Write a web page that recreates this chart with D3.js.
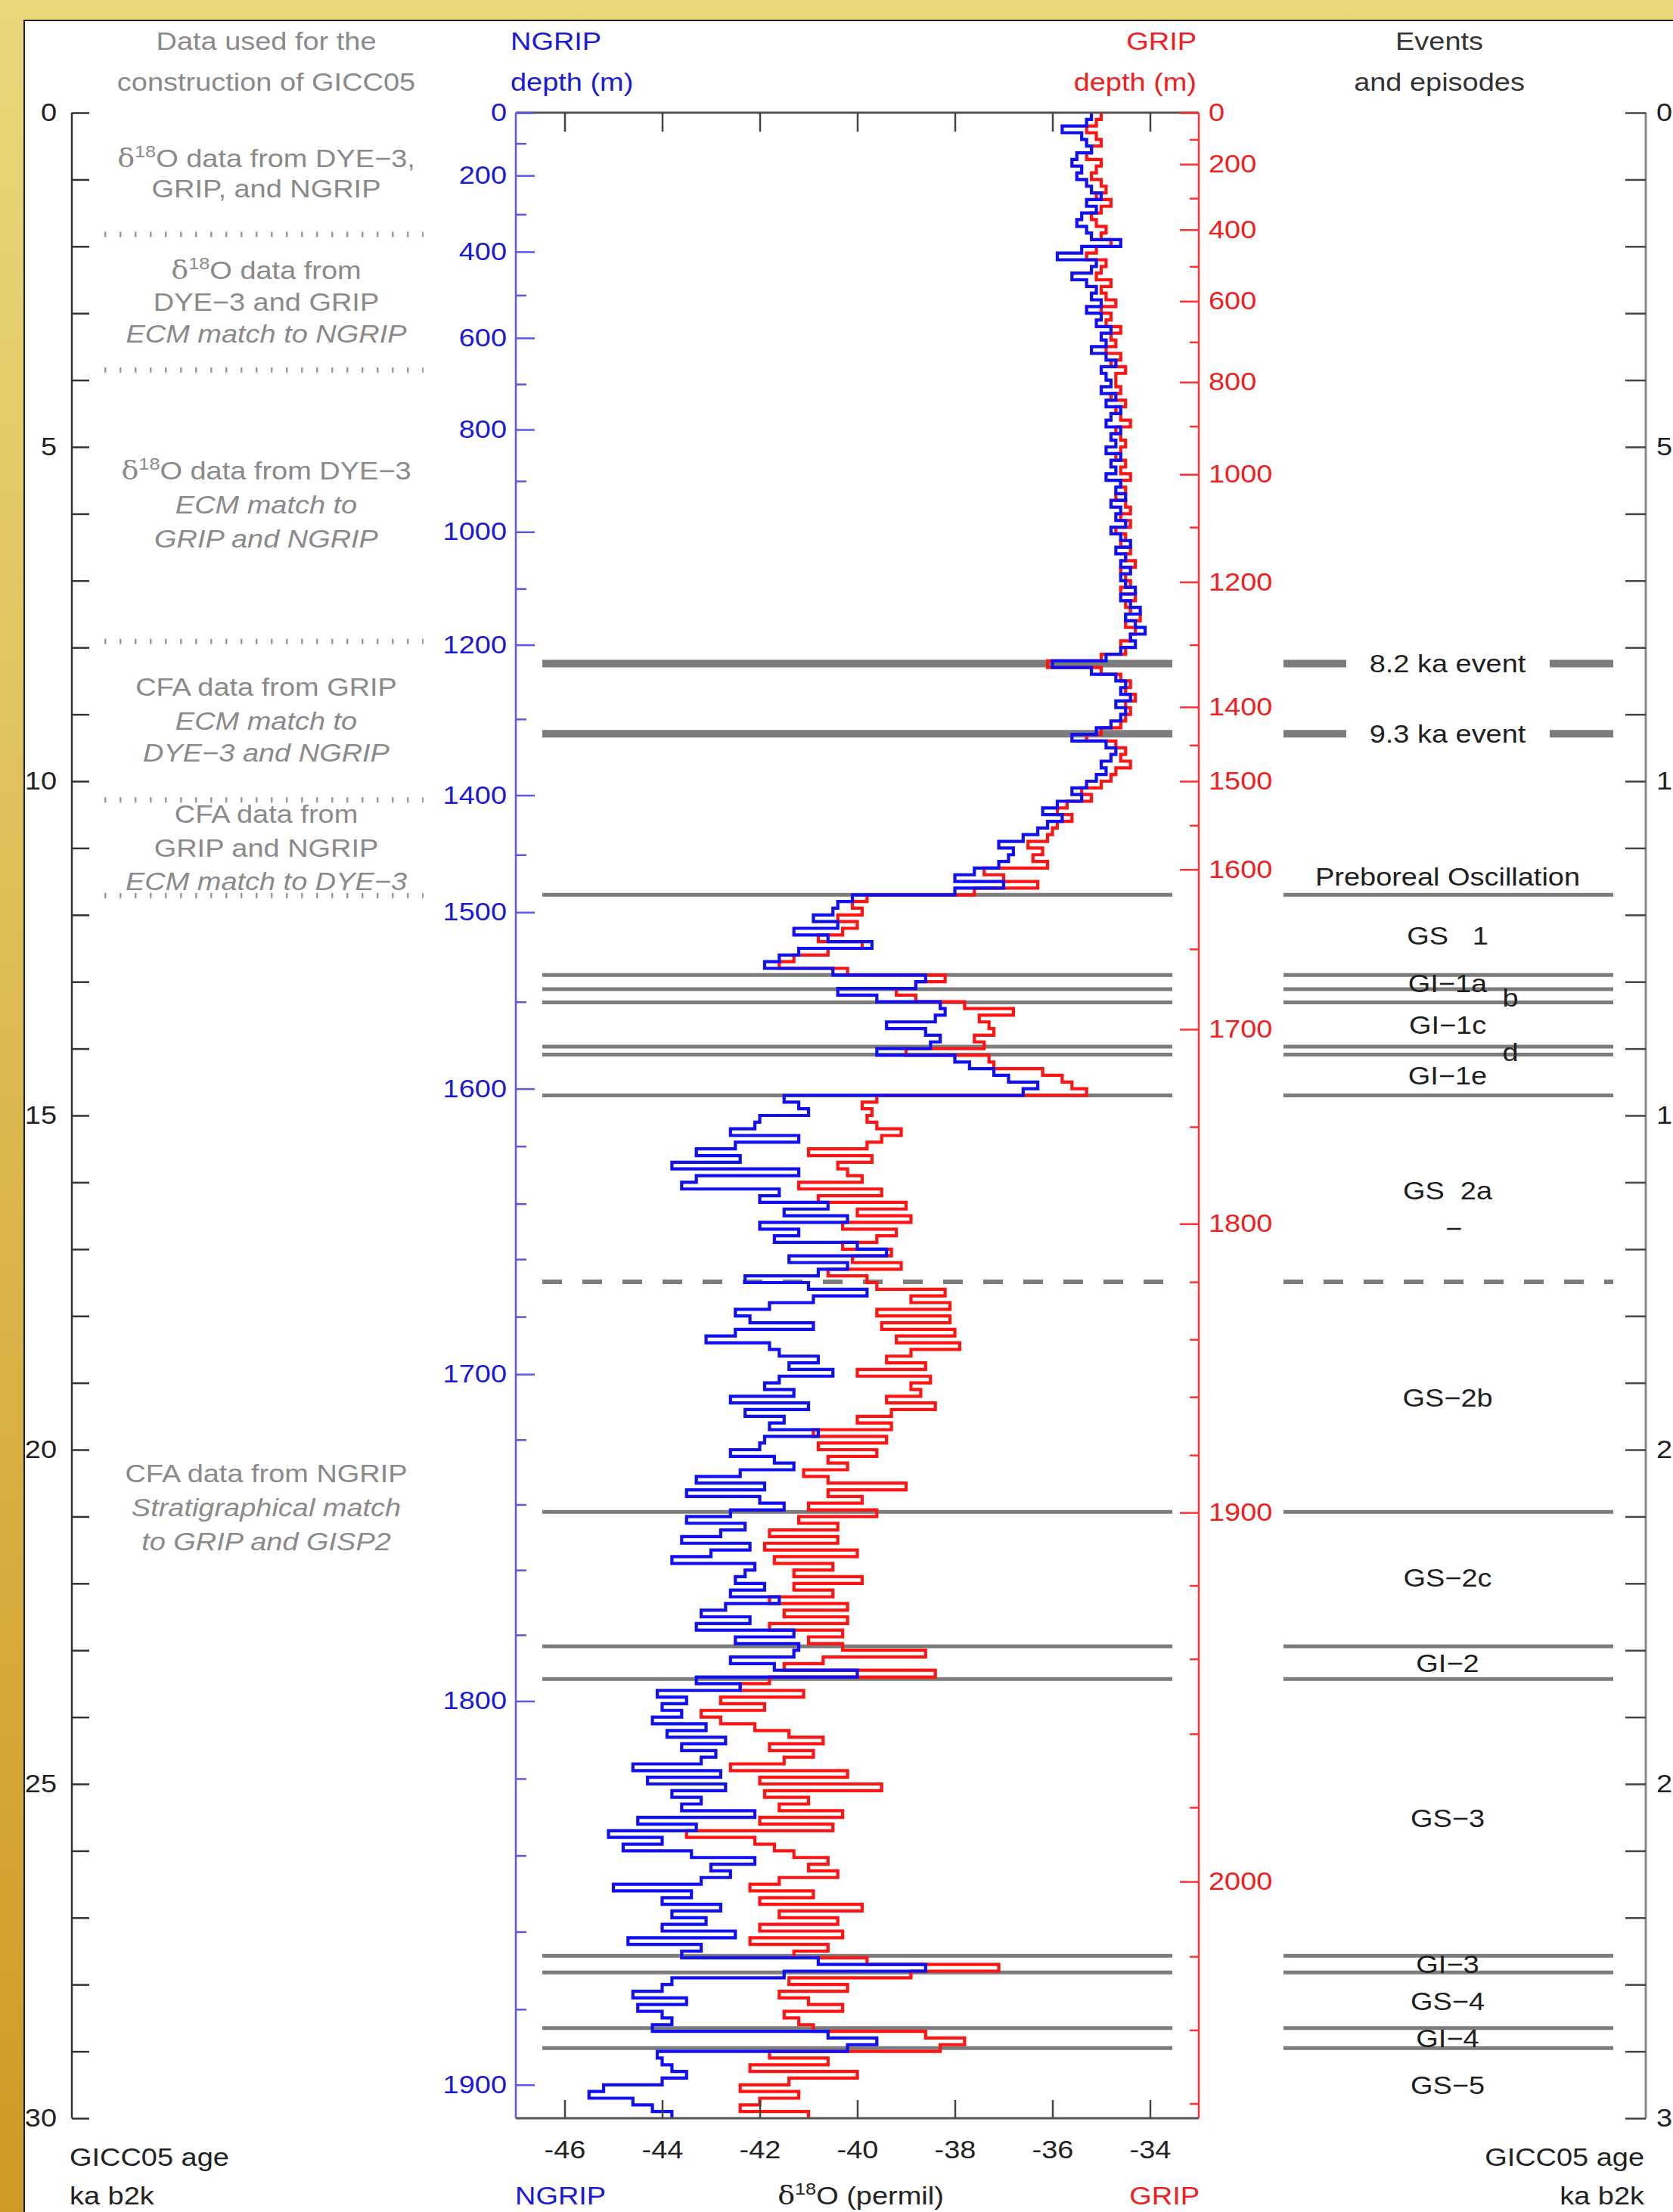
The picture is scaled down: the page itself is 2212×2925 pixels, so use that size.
<!DOCTYPE html>
<html>
<head>
<meta charset="utf-8">
<script src="https://cdn.jsdelivr.net/npm/d3@7"></script>
<style>
  body { margin: 0; background: #e8d87a; }
  svg { display: block; }
  text { font-family: 'Liberation Sans', Arial, sans-serif; }
</style>
</head>
<body>
<script>
// Canvas size of the figure
var width = 2212;
var height = 2925;

// d18O values (permil), one per 0.1 ka step from 0 ka, one row per ka
var ageStep = 0.1;
var ngripD18O = [
  -35.2,-35.3,-35.8,-35.4,-35.3,-35.2,-35.5,-35.6,-35.4,-35.5,
  -35.3,-35.2,-35.0,-35.3,-35.1,-35.4,-35.5,-35.3,-35.2,-34.6,
  -35.4,-35.9,-35.1,-35.2,-35.6,-35.3,-35.1,-35.2,-35.0,-35.3,
  -35.0,-35.1,-34.8,-35.0,-34.9,-35.2,-34.9,-34.7,-35.0,-34.9,
  -34.8,-35.0,-34.7,-34.9,-34.6,-34.8,-34.9,-34.6,-34.8,-34.7,
  -34.9,-34.6,-34.8,-34.7,-34.9,-34.6,-34.7,-34.5,-34.8,-34.6,
  -34.7,-34.5,-34.8,-34.6,-34.4,-34.7,-34.5,-34.6,-34.4,-34.6,
  -34.5,-34.3,-34.6,-34.4,-34.2,-34.5,-34.3,-34.1,-34.4,-34.3,
  -34.6,-34.9,-36.0,-35.2,-34.7,-34.5,-34.6,-34.4,-34.7,-34.5,
  -34.6,-34.8,-35.1,-35.6,-34.9,-34.7,-34.8,-35.0,-34.9,-35.1,
  -35.3,-35.6,-35.4,-35.9,-36.2,-35.8,-36.1,-36.3,-36.6,-37.1,
  -36.8,-36.9,-37.1,-37.6,-38.0,-37.0,-38.0,-40.1,-40.4,-40.5,
  -40.9,-40.4,-41.3,-40.6,-39.7,-41.2,-41.6,-41.9,-40.5,-38.6,
  -38.8,-40.4,-39.6,-38.3,-38.2,-38.4,-39.4,-38.6,-38.3,-38.5,
  -39.6,-38.0,-37.7,-37.2,-36.9,-36.3,-36.6,-41.5,-41.2,-41.0,
  -42.0,-42.1,-42.6,-41.2,-42.5,-43.3,-42.4,-43.8,-41.2,-43.3,
  -43.6,-41.6,-42.0,-40.6,-41.5,-40.2,-42.0,-41.2,-41.7,-40.0,
  -39.4,-41.4,-40.2,-40.8,-42.3,-41.0,-39.8,-40.9,-41.8,-42.5,
  -42.2,-40.9,-42.5,-43.1,-41.8,-41.6,-40.8,-41.4,-40.5,-41.6,
  -41.9,-41.3,-42.6,-41.0,-42.3,-41.5,-41.8,-40.8,-41.9,-42.0,
  -42.6,-41.7,-41.3,-42.4,-43.3,-41.9,-43.5,-42.0,-41.5,-42.6,
  -43.5,-42.3,-42.8,-43.6,-42.2,-43.0,-43.8,-42.1,-42.3,-42.5,
  -41.9,-42.6,-41.6,-42.7,-43.2,-42.2,-43.3,-41.3,-42.5,-41.2,
  -41.3,-42.6,-41.7,-40.0,-43.3,-42.4,-44.1,-43.5,-44.0,-43.6,
  -44.2,-43.1,-43.9,-42.7,-43.6,-42.9,-43.2,-44.6,-42.8,-44.3,
  -42.7,-43.8,-43.2,-43.6,-42.1,-44.5,-43.3,-45.1,-44.0,-44.8,
  -43.4,-42.1,-43.0,-42.6,-43.2,-45.0,-43.4,-44.0,-42.8,-43.8,
  -43.1,-44.0,-42.5,-44.7,-43.2,-43.6,-40.8,-38.6,-41.5,-43.8,
  -44.0,-44.6,-43.5,-44.5,-44.0,-43.8,-44.2,-40.6,-39.6,-40.2,
  -44.1,-44.0,-43.8,-43.5,-44.0,-45.2,-45.5,-44.6,-44.2,-43.8
];
var gripD18O = [
  -35.0,-35.1,-35.3,-35.1,-35.0,-35.2,-35.3,-35.0,-35.1,-35.2,
  -35.0,-34.9,-35.1,-34.8,-35.0,-35.2,-35.1,-34.9,-35.0,-34.8,
  -35.1,-35.3,-34.9,-35.0,-35.1,-34.8,-35.0,-34.9,-34.7,-35.0,
  -34.8,-34.9,-34.6,-34.8,-34.7,-34.9,-34.6,-34.8,-34.5,-34.7,
  -34.7,-34.6,-34.8,-34.5,-34.7,-34.6,-34.4,-34.7,-34.6,-34.5,
  -34.6,-34.7,-34.5,-34.6,-34.4,-34.6,-34.5,-34.7,-34.5,-34.4,
  -34.6,-34.4,-34.7,-34.5,-34.6,-34.4,-34.5,-34.3,-34.6,-34.5,
  -34.4,-34.6,-34.3,-34.5,-34.4,-34.2,-34.5,-34.3,-34.4,-34.6,
  -34.5,-35.0,-36.1,-35.0,-34.6,-34.4,-34.5,-34.3,-34.5,-34.4,
  -34.5,-34.6,-35.0,-35.3,-34.7,-34.5,-34.6,-34.4,-34.7,-34.8,
  -35.0,-35.4,-35.2,-35.7,-35.9,-35.6,-35.9,-36.0,-36.1,-36.5,
  -36.2,-36.4,-36.1,-37.4,-37.0,-36.3,-37.6,-39.8,-40.1,-39.9,
  -40.4,-40.0,-40.3,-40.8,-39.9,-40.6,-41.3,-41.6,-40.2,-38.2,
  -38.8,-39.2,-38.8,-37.8,-36.8,-37.5,-37.3,-37.2,-37.6,-37.4,
  -39.0,-37.3,-37.2,-36.2,-35.8,-35.6,-35.3,-39.6,-39.9,-39.7,
  -39.8,-39.6,-39.1,-39.5,-39.8,-41.0,-39.7,-40.4,-40.2,-39.9,
  -41.2,-39.5,-40.8,-39.0,-40.0,-38.9,-40.3,-39.2,-39.6,-40.3,
  -39.3,-40.1,-39.1,-40.6,-39.8,-39.6,-38.2,-38.9,-38.1,-39.6,
  -38.1,-39.5,-38.0,-39.2,-37.9,-38.9,-39.4,-38.6,-40.0,-38.5,
  -38.9,-38.7,-39.4,-38.4,-39.3,-40.0,-39.3,-40.9,-39.4,-40.8,
  -39.6,-40.6,-40.2,-41.1,-40.6,-39.0,-40.6,-39.9,-41.0,-39.6,
  -41.2,-40.4,-41.8,-40.4,-41.9,-40.0,-41.7,-40.5,-41.3,-39.9,
  -41.3,-40.5,-41.8,-40.2,-41.5,-40.2,-41.8,-40.3,-41.0,-40.3,
  -38.6,-40.7,-41.5,-38.4,-41.8,-42.4,-41.1,-42.8,-41.9,-43.2,
  -42.8,-42.1,-41.4,-40.7,-41.8,-40.9,-41.5,-42.6,-40.2,-42.0,
  -39.5,-41.9,-41.0,-41.6,-40.3,-42.0,-40.5,-43.5,-42.1,-41.7,
  -41.3,-40.6,-41.0,-40.4,-41.6,-42.2,-40.9,-42.0,-39.9,-41.6,
  -40.4,-42.0,-40.3,-42.2,-40.6,-41.3,-39.8,-37.1,-38.9,-41.4,
  -40.2,-41.6,-41.0,-40.3,-41.5,-41.2,-40.9,-38.6,-37.8,-38.3,
  -41.8,-40.6,-42.2,-40.0,-41.4,-42.4,-41.2,-42.0,-42.4,-41.0
];

// Depth ticks of both cores and the GICC05 age (ka b2k) where they sit
var ngripTickDepths = [0,100,200,300,400,500,600,700,800,900,1000,1100,1200,1300,1400,1450,1500,1550,1600,
  1620,1640,1660,1680,1700,1720,1740,1760,1780,1800,1820,1840,1860,1880,1900];
var ngripTickAges = [0,0.46,0.94,1.52,2.08,2.73,3.37,4.06,4.74,5.51,6.27,7.12,7.96,9.07,10.21,11.10,11.96,13.30,14.60,
  15.46,16.32,17.15,18.01,18.87,19.85,20.82,21.80,22.77,23.76,24.92,26.07,27.21,28.37,29.50];
var ngripLabelDepths = [0,200,400,600,800,1000,1200,1400,1500,1600,1700,1800,1900];

var gripTickDepths = [0,100,200,300,400,500,600,700,800,900,1000,1100,1200,1300,1400,1450,1500,1550,1600,1650,1700,1750,
  1800,1820,1840,1860,1880,1900,1920,1940,1960,1980,2000,2020,2040,2060];
var gripTickAges = [0,0.40,0.77,1.28,1.75,2.30,2.82,3.43,4.03,4.69,5.41,6.20,7.02,7.96,8.89,9.46,10.00,10.66,11.32,12.51,13.71,15.17,
  16.62,17.49,18.35,19.21,20.08,20.94,22.03,23.13,24.25,25.35,26.46,27.58,28.68,29.78];
var gripLabelDepths = [0,200,400,600,800,1000,1200,1400,1500,1600,1700,1800,1900,2000];

var d18OTicks = [-46,-44,-42,-40,-38,-36,-34];

// Events and episodes (ages in ka b2k)
var thickEventAges = [8.24, 9.29];
var thinEventAges = [11.70, 12.90, 13.11, 13.31, 13.97, 14.09, 14.70, 20.93, 22.94, 23.43, 27.57, 27.82, 28.65, 28.95];
var dashedEventAges = [17.49];
var eventLabels = ["8.2 ka event", "9.3 ka event", "Preboreal Oscillation", "GS\u00a0\u00a0 1", "GI\u22121a", "b",
  "GI\u22121c", "d", "GI\u22121e", "GS\u00a0\u00a02a", "\u2212", "GS\u22122b", "GS\u22122c", "GI\u22122", "GS\u22123",
  "GI\u22123", "GS\u22124", "GI\u22124", "GS\u22125"];
var eventLabelAges = [8.24, 9.29, 11.43, 12.31, 13.02, 13.24, 13.65, 14.05, 14.41, 16.12, 16.69, 19.22, 21.92, 23.19,
  25.51, 27.70, 28.25, 28.81, 29.51];

// Data sources used for GICC05 (left column)
var sourceLines = ["\u03b418O data from DYE\u22123,", "GRIP, and NGRIP",
  "\u03b418O data from", "DYE\u22123 and GRIP", "ECM match to NGRIP",
  "\u03b418O data from DYE\u22123", "ECM match to", "GRIP and NGRIP",
  "CFA data from GRIP", "ECM match to", "DYE\u22123 and NGRIP",
  "CFA data from", "GRIP and NGRIP", "ECM match to DYE\u22123",
  "CFA data from NGRIP", "Stratigraphical match", "to GRIP and GISP2"];
var sourceAges = [0.68, 1.14, 2.36, 2.83, 3.31, 5.36, 5.87, 6.37, 8.59, 9.10, 9.58, 10.49, 11.0, 11.5, 20.36, 20.87, 21.37];
var sourceItalic = [0,0,0,0,1,0,1,1,0,1,1,0,0,1,0,1,1];
var sourceBreakAges = [1.82, 3.85, 7.91, 10.28, 11.71];

var stretchX = 1.15;
var blue = "#1010f0", red = "#ff1414", grey = "#7c7c7c";

var svg = d3.select("body").append("svg")
    .attr("width", width)
    .attr("height", height);

// yellow frame and white panel
var grad = svg.append("defs").append("linearGradient")
    .attr("id", "frame").attr("x1", 0).attr("y1", 0).attr("x2", 0).attr("y2", 1);
grad.append("stop").attr("offset", "0%").attr("stop-color", "#e8d87a");
grad.append("stop").attr("offset", "100%").attr("stop-color", "#cf9a25");
svg.append("rect").attr("width", width).attr("height", height).attr("fill", "url(#frame)");
svg.append("rect").attr("x", 32).attr("y", 27).attr("width", width).attr("height", height)
    .attr("fill", "#fff").attr("stroke", "#222").attr("stroke-width", 2);

// Scales: d18O across, GICC05 age down
var x = d3.scaleLinear().domain([-47, -33]).range([682, 1585]);
var age = d3.scaleLinear().domain([0, 30]).range([149, 2801]);
var ngripDepth = d3.scaleLinear().domain(ngripTickDepths).range(ngripTickAges.map(age));
var gripDepth = d3.scaleLinear().domain(gripTickDepths).range(gripTickAges.map(age));

function addText(parent, px, py, str, opt) {
  opt = opt || {};
  var t = parent.append("text")
      .attr("transform", "translate(" + px + "," + py + ") scale(" + stretchX + ",1)")
      .attr("dy", "0.35em")
      .attr("text-anchor", opt.anchor || "middle")
      .attr("fill", opt.color || "#222")
      .attr("font-size", opt.size || 33)
      .attr("font-style", opt.italic ? "italic" : null);
  if (str.indexOf("\u03b418O") === 0) {
    t.append("tspan").attr("font-family", "'DejaVu Serif', serif").text("\u03b4");
    t.append("tspan").attr("font-size", 22).attr("dy", -13).text("18");
    t.append("tspan").attr("dy", 13).text(str.slice(3));
  } else {
    t.text(str);
  }
  return t;
}

// stretch axis labels the same way as the free text
function widen(sel) {
  sel.each(function () {
    var t = d3.select(this);
    var tx = +t.attr("x") || 0, ty = +t.attr("y") || 0;
    t.attr("x", null).attr("y", null)
      .attr("transform", "translate(" + tx + "," + ty + ") scale(" + stretchX + ",1)");
  });
}

function styleAxis(g, tickColor, textColor) {
  g.select(".domain").remove();
  g.selectAll("line").attr("stroke", tickColor).attr("stroke-width", 2.5);
  g.selectAll("text").attr("fill", textColor).attr("font-size", 33)
    .attr("font-family", "'Liberation Sans', Arial, sans-serif").call(widen);
}

// event lines (drawn under the series)
var events = svg.append("g");
function eventLine(a, x1, x2, w, dash) {
  events.append("line")
      .attr("x1", x1).attr("x2", x2).attr("y1", age(a)).attr("y2", age(a))
      .attr("stroke", grey).attr("stroke-width", w)
      .attr("stroke-dasharray", dash || null);
}
thickEventAges.forEach(function (a) {
  eventLine(a, 717, 1550, 10);
  eventLine(a, 1697, 1780, 10);
  eventLine(a, 2049, 2133, 10);
});
thinEventAges.forEach(function (a) {
  eventLine(a, 717, 1550, 5);
  eventLine(a, 1697, 2133, 5);
});
dashedEventAges.forEach(function (a) {
  eventLine(a, 717, 1550, 6, "26,27");
  eventLine(a, 1697, 2133, 6, "26,27");
});

// step series
function steps(values) {
  var pts = values.map(function (v, i) { return [v, i * ageStep]; });
  pts.push([values[values.length - 1], 30]);
  return pts;
}
var line = d3.line()
    .x(function (d) { return x(d[0]); })
    .y(function (d) { return age(d[1]); })
    .curve(d3.curveStepBefore);

svg.append("path").datum(steps(gripD18O))
    .attr("d", line).attr("fill", "none").attr("stroke", red).attr("stroke-width", 4.2);
svg.append("path").datum(steps(ngripD18O))
    .attr("d", line).attr("fill", "none").attr("stroke", blue).attr("stroke-width", 4.2);

// plot frame
svg.append("line").attr("x1", 682).attr("x2", 1585).attr("y1", age(0)).attr("y2", age(0))
    .attr("stroke", "#555").attr("stroke-width", 3);
svg.append("line").attr("x1", 682).attr("x2", 1585).attr("y1", age(30)).attr("y2", age(30))
    .attr("stroke", "#555").attr("stroke-width", 3);
svg.append("line").attr("x1", 682).attr("x2", 682).attr("y1", age(0)).attr("y2", age(30))
    .attr("stroke", "#5858ee").attr("stroke-width", 2.5);
svg.append("line").attr("x1", 1585).attr("x2", 1585).attr("y1", age(0)).attr("y2", age(30))
    .attr("stroke", "#ff3030").attr("stroke-width", 2.5);

// d18O axes
svg.append("g").attr("transform", "translate(0," + age(0) + ")")
    .call(d3.axisTop(x).tickValues(d18OTicks).tickSize(-25).tickFormat(""))
    .call(styleAxis, "#444", "#222");
svg.append("g").attr("transform", "translate(0," + age(30) + ")")
    .call(d3.axisBottom(x).tickValues(d18OTicks).tickSize(-24).tickPadding(30)
      .tickFormat(function (d) { return "-" + Math.abs(d); }))
    .call(styleAxis, "#444", "#222");

// NGRIP depth axis (left, blue)
var depthFormat = d3.format("d");
svg.append("g").attr("transform", "translate(682,0)")
    .call(d3.axisLeft(ngripDepth)
      .tickValues(ngripTickDepths.filter(function (d) { return ngripLabelDepths.indexOf(d) < 0; }))
      .tickSize(-14).tickFormat(""))
    .call(styleAxis, "#5858ee", blue);
svg.append("g").attr("transform", "translate(682,0)")
    .call(d3.axisLeft(ngripDepth).tickValues(ngripLabelDepths).tickSize(-25).tickPadding(12).tickFormat(depthFormat))
    .call(styleAxis, "#5858ee", "#1a1ad8");

// GRIP depth axis (right, red)
svg.append("g").attr("transform", "translate(1585,0)")
    .call(d3.axisRight(gripDepth)
      .tickValues(gripTickDepths.filter(function (d) { return gripLabelDepths.indexOf(d) < 0; }))
      .tickSize(-12).tickFormat(""))
    .call(styleAxis, "#ff3030", red);
svg.append("g").attr("transform", "translate(1585,0)")
    .call(d3.axisRight(gripDepth).tickValues(gripLabelDepths).tickSize(-25).tickPadding(13).tickFormat(depthFormat))
    .call(styleAxis, "#ff3030", "#f02020");

// GICC05 age axes
var ageTicks = d3.range(0, 31);
var ageFormat = function (d) { return d % 5 === 0 ? d : ""; };
svg.append("line").attr("x1", 95).attr("x2", 95).attr("y1", age(0)).attr("y2", age(30))
    .attr("stroke", "#333").attr("stroke-width", 2.5);
svg.append("g").attr("transform", "translate(95,0)")
    .call(d3.axisLeft(age).tickValues(ageTicks).tickSize(-23).tickPadding(20).tickFormat(ageFormat))
    .call(styleAxis, "#333", "#222");
svg.append("line").attr("x1", 2176).attr("x2", 2176).attr("y1", age(0)).attr("y2", age(30))
    .attr("stroke", "#888").attr("stroke-width", 3);
svg.append("g").attr("transform", "translate(2176,0)")
    .call(d3.axisRight(age).tickValues(ageTicks).tickSize(-27).tickPadding(14).tickFormat(ageFormat))
    .call(styleAxis, "#444", "#222");

// headers
var labels = svg.append("g");
addText(labels, 352, 54, "Data used for the", { color: "#8a8a8a" });
addText(labels, 352, 108, "construction of GICC05", { color: "#8a8a8a" });
addText(labels, 675, 54, "NGRIP", { anchor: "start", color: "#1a1ad8" });
addText(labels, 675, 108, "depth (m)", { anchor: "start", color: "#1a1ad8" });
addText(labels, 1582, 54, "GRIP", { anchor: "end", color: "#f02020" });
addText(labels, 1582, 108, "depth (m)", { anchor: "end", color: "#f02020" });
addText(labels, 1903, 54, "Events", { color: "#333" });
addText(labels, 1903, 108, "and episodes", { color: "#333" });

// footers
addText(labels, 92, 2852, "GICC05 age", { anchor: "start" });
addText(labels, 92, 2903, "ka b2k", { anchor: "start" });
addText(labels, 681, 2903, "NGRIP", { anchor: "start", color: "#1a1ad8" });
addText(labels, 1138, 2903, "\u03b418O (permil)", {});
addText(labels, 1586, 2903, "GRIP", { anchor: "end", color: "#f02020" });
addText(labels, 2174, 2852, "GICC05 age", { anchor: "end" });
addText(labels, 2174, 2903, "ka b2k", { anchor: "end" });

// data source notes
sourceLines.forEach(function (s, i) {
  addText(labels, 352, age(sourceAges[i]), s, { color: "#8a8a8a", italic: sourceItalic[i] });
});
sourceBreakAges.forEach(function (a) {
  labels.append("line")
      .attr("x1", 138).attr("x2", 560).attr("y1", age(a)).attr("y2", age(a))
      .attr("stroke", "#9a9a9a").attr("stroke-width", 7).attr("stroke-dasharray", "2.5,17.5");
});

// event labels
eventLabels.forEach(function (s, i) {
  var px = 1914;
  if (s === "b" || s === "d") px = 1997;
  if (s === "\u2212") px = 1922;
  addText(labels, px, age(eventLabelAges[i]), s, { color: "#1e1e1e" });
});
</script>
</body>
</html>
